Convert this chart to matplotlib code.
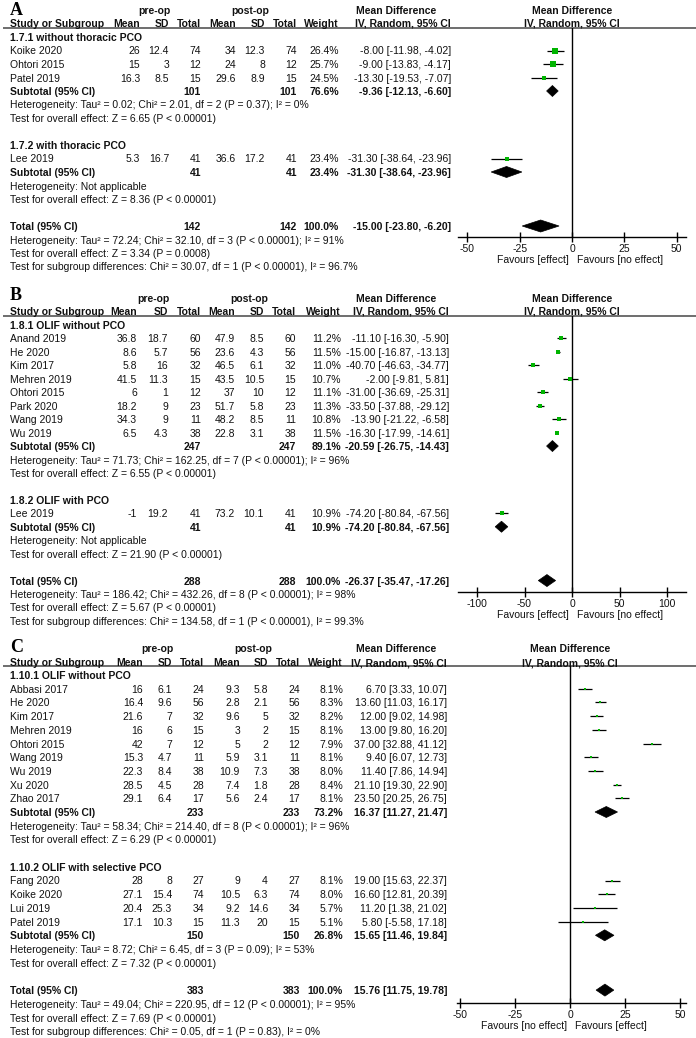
import math
import matplotlib
matplotlib.use('Agg')
import matplotlib.pyplot as plt
from matplotlib.patches import Polygon

plt.rcParams['font.family'] = ['Liberation Sans', 'DejaVu Sans']

W, H = 696, 1038
FS = 7.5
TXT = '#111111'
GREEN = '#00b400'

# ---------------- Panel A data ----------------
A_groups = ["1.7.1 without thoracic PCO", "1.7.2 with thoracic PCO"]
A_study = ["Koike 2020", "Ohtori 2015", "Patel 2019", "Lee 2019"]
A_grp = [0, 0, 0, 1]
A_pre_mean = [26, 15, 16.3, 5.3]
A_pre_sd = [12.4, 3, 8.5, 16.7]
A_pre_n = [74, 12, 15, 41]
A_post_mean = [34, 24, 29.6, 36.6]
A_post_sd = [12.3, 8, 8.9, 17.2]
A_post_n = [74, 12, 15, 41]
A_weight = [26.4, 25.7, 24.5, 23.4]
A_md = [-8.00, -9.00, -13.30, -31.30]
A_lo = [-11.98, -13.83, -19.53, -38.64]
A_hi = [-4.02, -4.17, -7.07, -23.96]
A_sub_n = [101, 41]
A_sub_w = [76.6, 23.4]
A_sub_md = [-9.36, -31.30]
A_sub_lo = [-12.13, -38.64]
A_sub_hi = [-6.60, -23.96]
A_sub_het = ["Heterogeneity: Tau\u00b2 = 0.02; Chi\u00b2 = 2.01, df = 2 (P = 0.37); I\u00b2 = 0%",
             "Heterogeneity: Not applicable"]
A_sub_test = ["Test for overall effect: Z = 6.65 (P < 0.00001)",
              "Test for overall effect: Z = 8.36 (P < 0.00001)"]
A_tot_n = 142
A_tot_md = [-15.00, -23.80, -6.20]
A_tot_lines = ["Heterogeneity: Tau\u00b2 = 72.24; Chi\u00b2 = 32.10, df = 3 (P < 0.00001); I\u00b2 = 91%",
               "Test for overall effect: Z = 3.34 (P = 0.0008)",
               "Test for subgroup differences: Chi\u00b2 = 30.07, df = 1 (P < 0.00001), I\u00b2 = 96.7%"]
A_ticks = [-50, -25, 0, 25, 50]
A_favours = ["Favours [effect]", "Favours [no effect]"]

# ---------------- Panel B data ----------------
B_groups = ["1.8.1 OLIF without PCO", "1.8.2 OLIF with PCO"]
B_study = ["Anand 2019", "He 2020", "Kim 2017", "Mehren 2019", "Ohtori 2015",
           "Park 2020", "Wang 2019", "Wu 2019", "Lee 2019"]
B_grp = [0, 0, 0, 0, 0, 0, 0, 0, 1]
B_pre_mean = [36.8, 8.6, 5.8, 41.5, 6, 18.2, 34.3, 6.5, -1]
B_pre_sd = [18.7, 5.7, 16, 11.3, 1, 9, 9, 4.3, 19.2]
B_pre_n = [60, 56, 32, 15, 12, 23, 11, 38, 41]
B_post_mean = [47.9, 23.6, 46.5, 43.5, 37, 51.7, 48.2, 22.8, 73.2]
B_post_sd = [8.5, 4.3, 6.1, 10.5, 10, 5.8, 8.5, 3.1, 10.1]
B_post_n = [60, 56, 32, 15, 12, 23, 11, 38, 41]
B_weight = [11.2, 11.5, 11.0, 10.7, 11.1, 11.3, 10.8, 11.5, 10.9]
B_md = [-11.10, -15.00, -40.70, -2.00, -31.00, -33.50, -13.90, -16.30, -74.20]
B_lo = [-16.30, -16.87, -46.63, -9.81, -36.69, -37.88, -21.22, -17.99, -80.84]
B_hi = [-5.90, -13.13, -34.77, 5.81, -25.31, -29.12, -6.58, -14.61, -67.56]
B_sub_n = [247, 41]
B_sub_w = [89.1, 10.9]
B_sub_md = [-20.59, -74.20]
B_sub_lo = [-26.75, -80.84]
B_sub_hi = [-14.43, -67.56]
B_sub_het = ["Heterogeneity: Tau\u00b2 = 71.73; Chi\u00b2 = 162.25, df = 7 (P < 0.00001); I\u00b2 = 96%",
             "Heterogeneity: Not applicable"]
B_sub_test = ["Test for overall effect: Z = 6.55 (P < 0.00001)",
              "Test for overall effect: Z = 21.90 (P < 0.00001)"]
B_tot_n = 288
B_tot_md = [-26.37, -35.47, -17.26]
B_tot_lines = ["Heterogeneity: Tau\u00b2 = 186.42; Chi\u00b2 = 432.26, df = 8 (P < 0.00001); I\u00b2 = 98%",
               "Test for overall effect: Z = 5.67 (P < 0.00001)",
               "Test for subgroup differences: Chi\u00b2 = 134.58, df = 1 (P < 0.00001), I\u00b2 = 99.3%"]
B_ticks = [-100, -50, 0, 50, 100]
B_favours = ["Favours [effect]", "Favours [no effect]"]

# ---------------- Panel C data ----------------
C_groups = ["1.10.1 OLIF without PCO", "1.10.2 OLIF with selective PCO"]
C_study = ["Abbasi 2017", "He 2020", "Kim 2017", "Mehren 2019", "Ohtori 2015", "Wang 2019",
           "Wu 2019", "Xu 2020", "Zhao 2017", "Fang 2020", "Koike 2020", "Lui 2019", "Patel 2019"]
C_grp = [0, 0, 0, 0, 0, 0, 0, 0, 0, 1, 1, 1, 1]
C_pre_mean = [16, 16.4, 21.6, 16, 42, 15.3, 22.3, 28.5, 29.1, 28, 27.1, 20.4, 17.1]
C_pre_sd = [6.1, 9.6, 7, 6, 7, 4.7, 8.4, 4.5, 6.4, 8, 15.4, 25.3, 10.3]
C_pre_n = [24, 56, 32, 15, 12, 11, 38, 28, 17, 27, 74, 34, 15]
C_post_mean = [9.3, 2.8, 9.6, 3, 5, 5.9, 10.9, 7.4, 5.6, 9, 10.5, 9.2, 11.3]
C_post_sd = [5.8, 2.1, 5, 2, 2, 3.1, 7.3, 1.8, 2.4, 4, 6.3, 14.6, 20]
C_post_n = [24, 56, 32, 15, 12, 11, 38, 28, 17, 27, 74, 34, 15]
C_weight = [8.1, 8.3, 8.2, 8.1, 7.9, 8.1, 8.0, 8.4, 8.1, 8.1, 8.0, 5.7, 5.1]
C_md = [6.70, 13.60, 12.00, 13.00, 37.00, 9.40, 11.40, 21.10, 23.50, 19.00, 16.60, 11.20, 5.80]
C_lo = [3.33, 11.03, 9.02, 9.80, 32.88, 6.07, 7.86, 19.30, 20.25, 15.63, 12.81, 1.38, -5.58]
C_hi = [10.07, 16.17, 14.98, 16.20, 41.12, 12.73, 14.94, 22.90, 26.75, 22.37, 20.39, 21.02, 17.18]
C_sub_n = [233, 150]
C_sub_w = [73.2, 26.8]
C_sub_md = [16.37, 15.65]
C_sub_lo = [11.27, 11.46]
C_sub_hi = [21.47, 19.84]
C_sub_het = ["Heterogeneity: Tau\u00b2 = 58.34; Chi\u00b2 = 214.40, df = 8 (P < 0.00001); I\u00b2 = 96%",
             "Heterogeneity: Tau\u00b2 = 8.72; Chi\u00b2 = 6.45, df = 3 (P = 0.09); I\u00b2 = 53%"]
C_sub_test = ["Test for overall effect: Z = 6.29 (P < 0.00001)",
              "Test for overall effect: Z = 7.32 (P < 0.00001)"]
C_tot_n = 383
C_tot_md = [15.76, 11.75, 19.78]
C_tot_lines = ["Heterogeneity: Tau\u00b2 = 49.04; Chi\u00b2 = 220.95, df = 12 (P < 0.00001); I\u00b2 = 95%",
               "Test for overall effect: Z = 7.69 (P < 0.00001)",
               "Test for subgroup differences: Chi\u00b2 = 0.05, df = 1 (P = 0.83), I\u00b2 = 0%"]
C_ticks = [-50, -25, 0, 25, 50]
C_favours = ["Favours [no effect]", "Favours [effect]"]


def mk(prefix, letter):
    g = globals()
    d = {k: g[prefix + '_' + k] for k in
         ['groups', 'study', 'grp', 'pre_mean', 'pre_sd', 'pre_n', 'post_mean', 'post_sd',
          'post_n', 'weight', 'md', 'lo', 'hi', 'sub_n', 'sub_w', 'sub_md', 'sub_lo',
          'sub_hi', 'sub_het', 'sub_test', 'tot_n', 'tot_md', 'tot_lines', 'ticks', 'favours']}
    d['letter'] = letter
    return d


# layout (pixels)
LAY = {
    'A': dict(letter_y=10.5, h1=10, h2=23, line=28, row0=37, pitch=13.5,
              cols=[140, 169, 201, 236, 265, 297, 339, 451], axis=237, x0=458, x1=686,
              xlim=(-54.5, 54.5), zero=572, fav=259),
    'B': dict(letter_y=295, h1=298, h2=311, line=315.5, row0=325, pitch=13.45,
              cols=[137, 168, 201, 235, 264, 296, 341, 449], axis=592, x0=458, x1=686,
              xlim=(-120, 120), zero=572, fav=614),
    'C': dict(letter_y=647, h1=648, h2=662, line=666, row0=675, pitch=13.7,
              cols=[143, 172, 204, 240, 268, 300, 343, 447], axis=1003, x0=456.7, x1=685.7,
              xlim=(-51.5, 52.4), zero=570, fav=1025),
}

fig = plt.figure(figsize=(W / 100, H / 100), dpi=100)
bg = fig.add_axes([0, 0, 1, 1])
bg.set_xlim(0, W)
bg.set_ylim(H, 0)
bg.axis('off')


def fnum(v):
    return f"{v:g}"


def T(x, y, s, ha='left', bold=False, **kw):
    bg.text(x, y + 4, s, ha=ha, va='baseline', fontsize=FS, color=TXT,
            fontweight='bold' if bold else 'normal', **kw)


def ci_str(m, l, h):
    return f"{m:.2f} [{l:.2f}, {h:.2f}]"


def draw_panel(P, L):
    c = L['cols']
    bg.text(10, L['letter_y'], P['letter'], family=['Liberation Serif'], fontweight='bold',
            fontsize=13, va='center', ha='left', color='black')
    T(c[1] - 15, L['h1'], 'pre-op', ha='center', bold=True)
    T(c[4] - 15, L['h1'], 'post-op', ha='center', bold=True)
    T(396, L['h1'], 'Mean Difference', ha='center', bold=True)
    T(L['zero'], L['h1'], 'Mean Difference', ha='center', bold=True)
    T(10, L['h2'], 'Study or Subgroup', bold=True)
    for x, s in zip(c[:7], ['Mean', 'SD', 'Total', 'Mean', 'SD', 'Total', 'Weight']):
        T(x, L['h2'], s, ha='right', bold=True)
    T(c[7], L['h2'], 'IV, Random, 95% CI', ha='right', bold=True)
    T(L['zero'], L['h2'], 'IV, Random, 95% CI', ha='center', bold=True)
    bg.hlines(L['line'], 3, W, color='#555555', lw=1.2)

    ax = fig.add_axes([L['x0'] / W, 1 - L['axis'] / H, (L['x1'] - L['x0']) / W,
                       (L['axis'] - L['line']) / H])
    ax.set_xlim(*L['xlim'])
    ax.set_ylim(L['axis'], L['line'])
    ax.patch.set_alpha(0)
    for s in ['top', 'left', 'right']:
        ax.spines[s].set_visible(False)
    ax.spines['bottom'].set_linewidth(1.0)
    ax.set_yticks([])
    ax.set_xticks(P['ticks'])
    ax.set_xticklabels([str(t) for t in P['ticks']])
    ax.tick_params(axis='x', direction='inout', length=7, width=1, labelsize=FS, pad=1.5,
                   labelcolor=TXT)
    ax.axvline(0, color='black', lw=1.0)

    def diamond(y, m, l, h, hh=5.5):
        ax.add_patch(Polygon([[l, y], [m, y - hh], [h, y], [m, y + hh]], closed=True,
                             fc='black', ec='black', lw=0.5, zorder=4))

    i = 0
    ry = lambda k: L['row0'] + k * L['pitch']
    for g, gname in enumerate(P['groups']):
        T(10, ry(i), gname, bold=True)
        i += 1
        for j, st in enumerate(P['study']):
            if P['grp'][j] != g:
                continue
            y = ry(i)
            vals = [fnum(P['pre_mean'][j]), fnum(P['pre_sd'][j]), str(P['pre_n'][j]),
                    fnum(P['post_mean'][j]), fnum(P['post_sd'][j]), str(P['post_n'][j]),
                    f"{P['weight'][j]:.1f}%", ci_str(P['md'][j], P['lo'][j], P['hi'][j])]
            T(10, y, st)
            for x, s in zip(c, vals):
                T(x, y, s, ha='right')
            ax.hlines(y, P['lo'][j], P['hi'][j], color='black', lw=0.9, zorder=3)
            ax.plot([P['md'][j]], [y], marker='s', ms=0.72 * math.sqrt(P['weight'][j]),
                    mew=0, color=GREEN, zorder=5)
            i += 1
        y = ry(i)
        T(10, y, 'Subtotal (95% CI)', bold=True)
        T(c[2], y, str(P['sub_n'][g]), ha='right', bold=True)
        T(c[5], y, str(P['sub_n'][g]), ha='right', bold=True)
        T(c[6], y, f"{P['sub_w'][g]:.1f}%", ha='right', bold=True)
        T(c[7], y, ci_str(P['sub_md'][g], P['sub_lo'][g], P['sub_hi'][g]), ha='right', bold=True)
        diamond(y, P['sub_md'][g], P['sub_lo'][g], P['sub_hi'][g])
        i += 1
        T(10, ry(i), P['sub_het'][g])
        i += 1
        T(10, ry(i), P['sub_test'][g])
        i += 2
    y = ry(i)
    T(10, y, 'Total (95% CI)', bold=True)
    T(c[2], y, str(P['tot_n']), ha='right', bold=True)
    T(c[5], y, str(P['tot_n']), ha='right', bold=True)
    T(c[6], y, f"{sum(P['sub_w']):.1f}%", ha='right', bold=True)
    m, l, h = P['tot_md']
    T(c[7], y, ci_str(m, l, h), ha='right', bold=True)
    diamond(y, m, l, h, 6)
    for k, s in enumerate(P['tot_lines']):
        T(10, ry(i + 1 + k), s)
    T(L['zero'] - 3, L['fav'], P['favours'][0], ha='right')
    T(L['zero'] + 5, L['fav'], P['favours'][1], ha='left')


draw_panel(mk('A', 'A'), LAY['A'])
draw_panel(mk('B', 'B'), LAY['B'])
draw_panel(mk('C', 'C'), LAY['C'])

fig.savefig('out.png', dpi=100)
